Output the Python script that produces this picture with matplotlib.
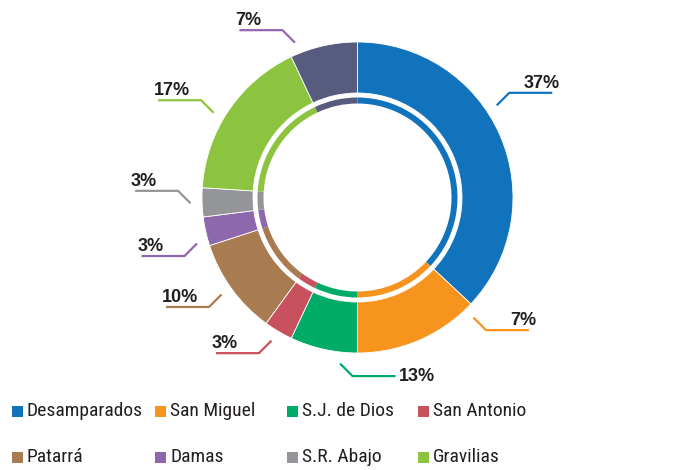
import numpy as np
import matplotlib
matplotlib.use("Agg")
import matplotlib.pyplot as plt
from matplotlib.patches import Rectangle
from matplotlib import font_manager

# --- data ---
categories = ["Desamparados", "San Miguel", "S.J. de Dios", "San Antonio",
              "Patarrá", "Damas", "S.R. Abajo", "Gravilias", "Otros"]
shares = [37, 13, 7, 3, 10, 3, 3, 17, 7]
label_texts = ["37%", "7%", "13%", "3%", "10%", "3%", "3%", "17%", "7%"]
colors = ["#1273BD", "#F7941E", "#00AB67", "#C8515E", "#A87B50",
          "#8E67AD", "#939598", "#8CC43F", "#575B7D"]
line_colors = colors[:8] + ["#9467B0"]
legend_names = categories[:8]

# --- layout for the callouts (angle on the ring, elbow direction) ---
label_angles = [33.5, -46, -96, -121, -144.5, 196, 182, 149.5, 112]
label_dirs = [(1, 1), (1, -1), (1, -1), (-1, -1), (-1, -1),
              (-1, -1), (-1, 1), (-1, 1), (-1, 1)]
label_side = ["above"] * 9
label_side[2] = "end"

# look for a condensed face for the legend
fonts = font_manager.fontManager.ttflist
names = {f.name for f in fonts}
leg_font = dict(family="Liberation Sans", fontsize=12.5)
for cand in ["Roboto Condensed", "Liberation Sans Narrow", "Open Sans Condensed",
             "DejaVu Sans Condensed", "Noto Sans Condensed"]:
    if cand in names:
        leg_font = dict(family=cand, fontsize=14)
        break
else:
    cond = [f for f in fonts if str(f.stretch) in ("condensed", "semi-condensed")
            or (isinstance(f.stretch, int) and f.stretch < 500)]
    cond = [f for f in cond if f.style == "normal"
            and f.weight in (400, "normal", "regular", "book")]
    if cond:
        leg_font = dict(family=cond[0].name, fontstretch=cond[0].stretch, fontsize=14)

W, H = 673, 470
fig = plt.figure(figsize=(W / 100, H / 100), dpi=100)
ax = fig.add_axes([0, 0, 1, 1])

cx, cy = 357.5, H - 197.5
R = 155.5

ax.pie(shares, colors=colors, startangle=90, counterclock=False, center=(cx, cy),
       radius=R, wedgeprops=dict(width=51, edgecolor="white", linewidth=0.6))
ax.pie(shares, colors=colors, startangle=90, counterclock=False, center=(cx, cy),
       radius=100, wedgeprops=dict(width=6, linewidth=0))

ax.set_aspect("equal")
ax.set_xlim(0, W)
ax.set_ylim(0, H)
ax.axis("off")

# callouts
r0 = 167
diag = 12.5
hlen = 43
for txt, ang, (sx, sy), lc, side in zip(label_texts, label_angles, label_dirs,
                                         line_colors, label_side):
    a = np.deg2rad(ang)
    x0, y0 = cx + r0 * np.cos(a), cy + r0 * np.sin(a)
    x1, y1 = x0 + sx * diag, y0 + sy * diag
    x2 = x1 + sx * hlen
    ax.plot([x0, x1, x2], [y0, y1, y1], color=lc, lw=1.6, solid_capstyle="butt")
    if side == "end":
        ax.text(x2 + 3, y1, txt, ha="left", va="center", fontsize=13,
                fontweight="bold", color="#231F20", family="Liberation Sans")
    else:
        ax.text(x2 + (7 if sx > 0 else -4), y1 + 5, txt,
                ha="right" if sx > 0 else "left", va="baseline", fontsize=13,
                fontweight="bold", color="#231F20", family="Liberation Sans")

# legend, two rows of four
col_x = [12, 155, 287, 418]
row_y = [H - 411, H - 457]
for i, (name, c) in enumerate(zip(legend_names, colors)):
    x = col_x[i % 4]
    y = row_y[i // 4]
    ax.add_patch(Rectangle((x, y - 5.5), 11, 11, color=c, lw=0))
    ax.text(x + 15, y, name, ha="left", va="center", color="#231F20", **leg_font)

fig.savefig("out.png", dpi=100)
